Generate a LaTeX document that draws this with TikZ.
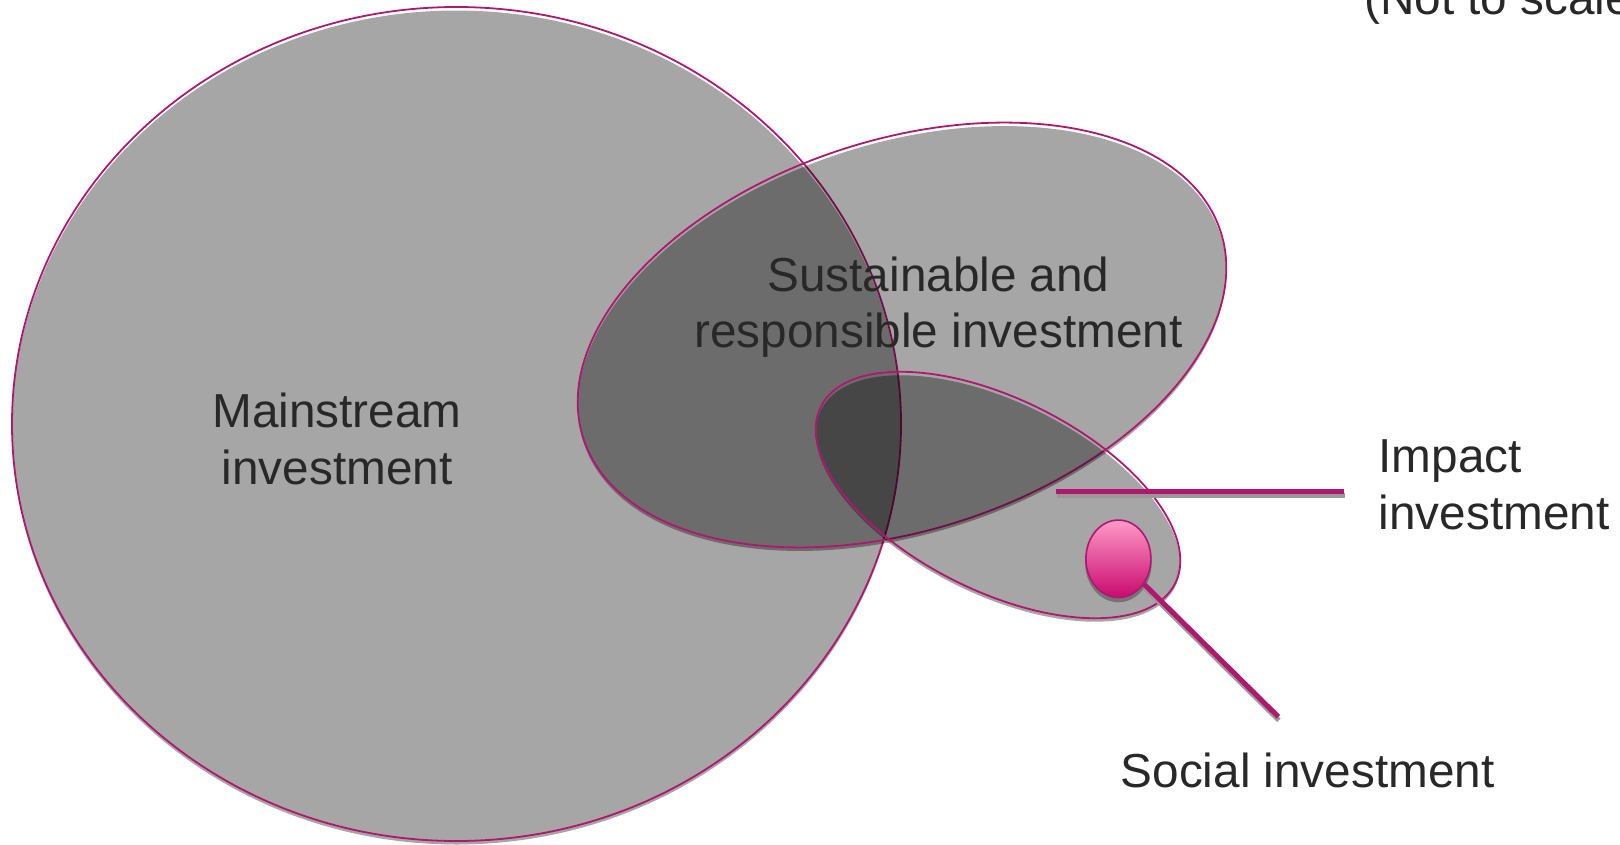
\documentclass[tikz,border=0pt]{standalone}
\usepackage{fontspec}
\setmainfont{Liberation Sans}
\usetikzlibrary{shapes.geometric}

\definecolor{vennedge}{HTML}{B0186E}
\definecolor{inktext}{HTML}{282828}
\definecolor{balltop}{HTML}{FF9AC6}
\definecolor{ballbot}{HTML}{C80A6E}

\begin{document}
\begin{tikzpicture}[x=1pt,y=-1pt]
  \def\XMAIN{456.5}
  \def\YMAIN{424}
  \def\RXMAIN{444.5}
  \def\RYMAIN{417}
  \def\XSRI{902}
  \def\YSRI{335}
  \def\ASRI{335}
  \def\BSRI{195}
  \def\TSRI{18}
  \def\XIMP{998}
  \def\YIMP{495}
  \def\AIMP{198}
  \def\BIMP{96}
  \def\TIMP{-26.5}
  \def\XBALL{1118.4}
  \def\YBALL{558.8}
  \def\DROP{3.5}

  \tikzset{
      venn fill/.style={fill=black,fill opacity=0.35},
      venn line/.style={draw=vennedge,line width=1.8pt},
      leader/.style={draw=vennedge,line width=5pt},
      leader shadow/.style={draw=black!40,line width=5pt,
        transform canvas={xshift=0.5pt,yshift=-3.5pt}},
      vennlabel/.style={text=inktext,inner sep=0pt,
        font=\fontsize{47.7}{56.6}\selectfont},
  }

  \useasboundingbox (0,0) rectangle (1620,844);

  \fill [venn fill] (\XMAIN,{\YMAIN+\DROP}) ellipse ({\RXMAIN} and {\RYMAIN});
  \draw [venn line] (\XMAIN,\YMAIN) ellipse ({\RXMAIN} and {\RYMAIN});

  \fill [venn fill,rotate around={\TSRI:(\XSRI,{\YSRI+\DROP})}]
    (\XSRI,{\YSRI+\DROP}) ellipse ({\ASRI} and {\BSRI});
  \draw [venn line,rotate around={\TSRI:(\XSRI,\YSRI)}]
    (\XSRI,\YSRI) ellipse ({\ASRI} and {\BSRI});

  \fill [venn fill,rotate around={\TIMP:(\XIMP,{\YIMP+\DROP})}]
    (\XIMP,{\YIMP+\DROP}) ellipse ({\AIMP} and {\BIMP});
  \draw [venn line,rotate around={\TIMP:(\XIMP,\YIMP)}]
    (\XIMP,\YIMP) ellipse ({\AIMP} and {\BIMP});

  \fill [black,opacity=0.3] (\XBALL,{\YBALL+4}) ellipse (33.3 and 39.5);
  \node [ellipse,draw=vennedge,line width=1.6pt,inner sep=0pt,
    minimum width=65pt,minimum height=77.5pt,
    top color=balltop,bottom color=ballbot] (ball) at (\XBALL,\YBALL) {};

  \coordinate (impstart) at (1056,491.7);
  \coordinate (impend) at (1344,491.7);
  \coordinate (socend) at (1278.3,716.7);
  \draw [leader shadow] (impstart) -- (impend);
  \draw [leader] (impstart) -- (impend);
  \draw [leader shadow] (ball) -- (socend);
  \draw [leader] (ball) -- (socend);

  \node [vennlabel,anchor=base,align=center] (mainstream) at (337,484.4)
    {Mainstream\\investment};
  \node [vennlabel,anchor=base,align=center] (sri) at (938.5,347.7)
    {Sustainable and\\responsible investment};
  \node [vennlabel,anchor=base west,align=left] (impact) at (1378.5,529.3)
    {Impact\\investment};
  \node [vennlabel,anchor=base west] (social) at (1120.5,787.7)
    {Social investment};
  \node [vennlabel,anchor=base west] (notscale) at (1364,14)
    {(Not to scale)};
\end{tikzpicture}
\end{document}
